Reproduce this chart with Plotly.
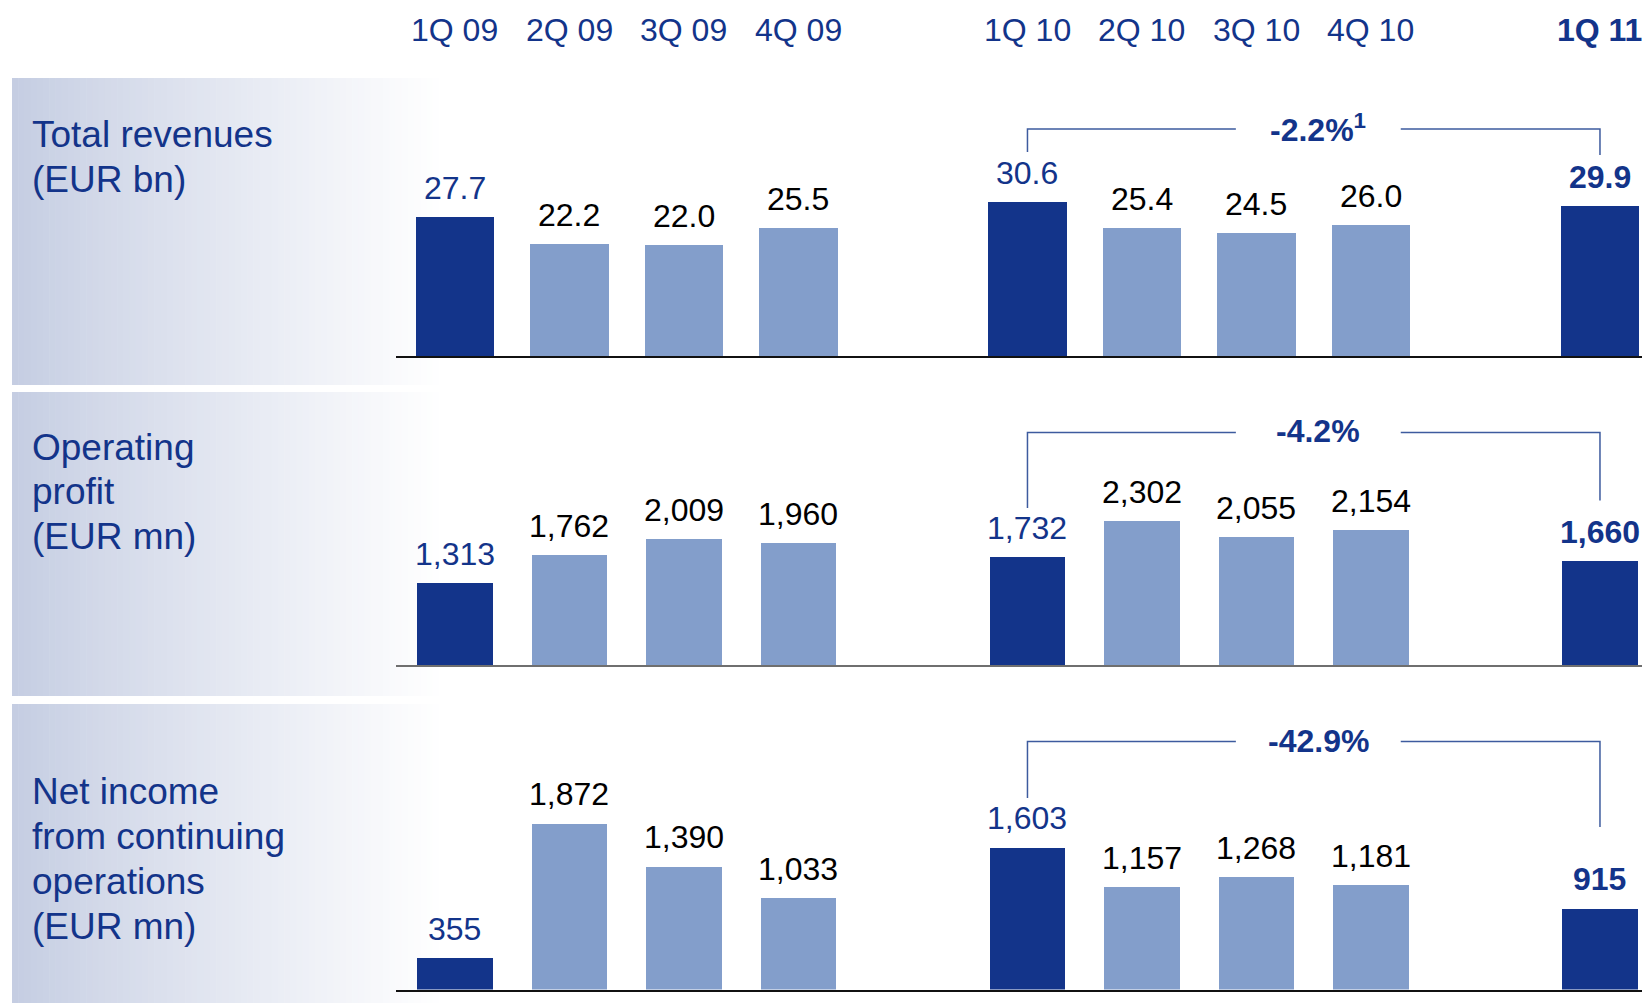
import plotly.graph_objects as go

# ---------------- data ----------------
quarters = ["1Q 09", "2Q 09", "3Q 09", "4Q 09", "1Q 10", "2Q 10", "3Q 10", "4Q 10", "1Q 11"]
revenues = [27.7, 22.2, 22.0, 25.5, 30.6, 25.4, 24.5, 26.0, 29.9]
operating_profit = [1313, 1762, 2009, 1960, 1732, 2302, 2055, 2154, 1660]
net_income = [355, 1872, 1390, 1033, 1603, 1157, 1268, 1181, 915]
titles = [
    ["Total revenues", "(EUR bn)"],
    ["Operating", "profit", "(EUR mn)"],
    ["Net income", "from continuing", "operations", "(EUR mn)"],
]
changes = ["-2.2%<sup>1</sup>", "-4.2%", "-42.9%"]

# ---------------- style ----------------
W, H = 1642, 1003
DARK = "#13348A"
LIGHT = "#839ECB"
LINE = "#3D5B9E"
FONT = "Liberation Sans, Arial, sans-serif"

# x slot positions: a one-slot gap between years
years = [q.split()[1] for q in quarters]
year_order = sorted(set(years))
xpos = [i + year_order.index(y) for i, y in enumerate(years)]
first_of_year = [i == 0 or years[i] != years[i - 1] for i in range(len(quarters))]
latest = [i == len(quarters) - 1 for i in range(len(quarters))]

X_RANGE = [-0.515, 10.367]
X_DOMAIN = [396 / W, 1.0]

# panel geometry (pixels from top of page)
panels = [
    dict(values=revenues, fmt="{:.1f}", base_px=356.0, top_px=86.0, ymax=53.7, width=0.686,
         bg=(78, 385), title_y=[134, 179], line_color="#111111", line_w=1.5,
         br=(227, 204, 201)),
    dict(values=operating_profit, fmt="{:,}", base_px=665.0, top_px=405.0, ymax=4160, width=0.663,
         bg=(392, 696), title_y=[447, 491, 536], line_color="#6f6f6f", line_w=2,
         br=(232.5, 157, 164.5)),
    dict(values=net_income, fmt="{:,}", base_px=989.6, top_px=729.6, ymax=2928, width=0.663,
         bg=(704, 1003), title_y=[791, 836, 881, 926], line_color="#111111", line_w=1.5,
         br=(248, 191.6, 162.6)),
]

fig = go.Figure()
shapes = []
annotations = []

# gradient backgrounds of the title panels
N = 70
x0p, x1p = 12, 445
c0 = (197, 205, 226)
for p in panels:
    ytop, ybot = p["bg"]
    for k in range(N):
        t = k / (N - 1)
        tt = min(1.0, t ** 0.9)
        col = tuple(int(round(c0[j] + (255 - c0[j]) * tt)) for j in range(3))
        xa = x0p + (x1p - x0p) * k / N
        xb = x0p + (x1p - x0p) * (k + 1) / N + 0.6
        shapes.append(dict(type="rect", xref="paper", yref="paper", layer="below",
                           x0=xa / W, x1=xb / W, y0=1 - ybot / H, y1=1 - ytop / H,
                           line=dict(width=0), fillcolor="rgb(%d,%d,%d)" % col))

for n, p in enumerate(panels):
    ax = "" if n == 0 else str(n + 1)
    xref, yref = "x" + ax, "y" + ax
    vals = p["values"]
    colors = [DARK if (f or l) else LIGHT for f, l in zip(first_of_year, latest)]
    fig.add_trace(go.Bar(x=xpos, y=vals, width=p["width"], marker=dict(color=colors, line=dict(width=0)),
                         xaxis=xref, yaxis=yref, showlegend=False, hoverinfo="x+y"))
    dom = [1 - p["base_px"] / H, 1 - p["top_px"] / H]
    fig.update_layout(**{
        "xaxis" + ax: dict(domain=X_DOMAIN, range=X_RANGE, showgrid=False, zeroline=False,
                           showticklabels=False, ticks="", showline=True,
                           linecolor=p["line_color"], linewidth=p["line_w"],
                           anchor=yref, fixedrange=True),
        "yaxis" + ax: dict(domain=dom, range=[0, p["ymax"]], showgrid=False, zeroline=False,
                           showticklabels=False, ticks="", showline=False,
                           anchor=xref, fixedrange=True),
    })
    px_per_unit = (p["base_px"] - p["top_px"]) / p["ymax"]

    # value labels
    for i, v in enumerate(vals):
        txt = p["fmt"].format(v)
        if latest[i]:
            txt = "<b>" + txt + "</b>"
        col = DARK if (first_of_year[i] or latest[i]) else "#000000"
        annotations.append(dict(x=xpos[i], y=v, xref=xref, yref=yref, text=txt, showarrow=False,
                                yshift=29, yanchor="middle", xanchor="center",
                                font=dict(family=FONT, size=32, color=col)))

    # titles
    for line, ty in zip(titles[n], p["title_y"]):
        annotations.append(dict(x=30 / W, y=1 - ty / H, xref="paper", yref="paper", text=line,
                                showarrow=False, xanchor="left", yanchor="middle",
                                font=dict(family=FONT, size=37, color=DARK)))

    # comparison bracket 1Q 10 -> 1Q 11
    top_px, lb_px, rb_px = p["br"]
    yt = top_px / px_per_unit
    yl = lb_px / px_per_unit
    yr = rb_px / px_per_unit
    xl = xpos[quarters.index("1Q 10")]
    xr = xpos[-1]
    xm = (xl + xr) / 2 + 0.04
    gap = 0.72
    shapes.append(dict(type="path", xref=xref, yref=yref,
                       path=f"M {xl},{yl} L {xl},{yt} L {xm - gap},{yt}",
                       line=dict(color=LINE, width=1.5)))
    shapes.append(dict(type="path", xref=xref, yref=yref,
                       path=f"M {xm + gap},{yt} L {xr},{yt} L {xr},{yr}",
                       line=dict(color=LINE, width=1.5)))
    annotations.append(dict(x=xm, y=yt, xref=xref, yref=yref, text="<b>" + changes[n] + "</b>",
                            showarrow=False, xanchor="center", yanchor="middle", yshift=1,
                            font=dict(family=FONT, size=32, color=DARK)))

# header quarter labels
for i, q in enumerate(quarters):
    annotations.append(dict(x=xpos[i], y=1 - 29.5 / H, xref="x", yref="paper",
                            text=("<b>" + q + "</b>") if latest[i] else q,
                            showarrow=False, xanchor="center", yanchor="middle",
                            font=dict(family=FONT, size=32, color=DARK)))

fig.update_layout(width=W, height=H, margin=dict(l=0, r=0, t=0, b=0), autosize=False,
                  paper_bgcolor="white", plot_bgcolor="rgba(0,0,0,0)", bargap=0,
                  shapes=shapes, annotations=annotations, showlegend=False)

fig.write_html("out.html", config={"displayModeBar": False},
               post_script="document.body.style.margin='0';document.body.style.overflow='hidden';")
